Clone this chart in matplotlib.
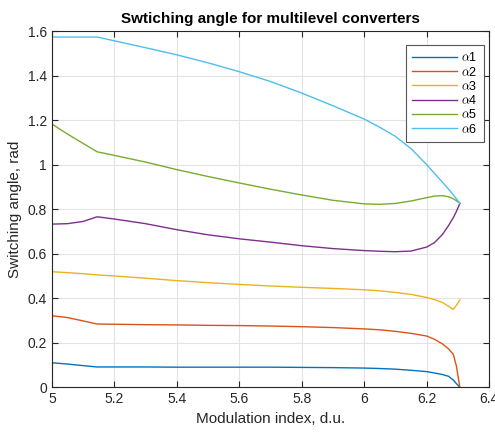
import matplotlib.pyplot as plt

plt.rcParams['font.family'] = ['Liberation Sans', 'DejaVu Sans']
plt.rcParams['mathtext.fontset'] = 'cm'

# modulation index grid and switching angles (rad)
m = [5.0, 5.05, 5.1, 5.145, 5.2, 5.3, 5.4, 5.5, 5.6, 5.7, 5.8, 5.9, 6.0, 6.05, 6.1,
     6.15, 6.2, 6.225, 6.25, 6.27, 6.285, 6.295, 6.306]
a1 = [0.110, 0.104, 0.097, 0.091, 0.091, 0.091, 0.090, 0.090, 0.090, 0.090, 0.089, 0.088, 0.086, 0.084, 0.081,
      0.076, 0.070, 0.064, 0.057, 0.049, 0.032, 0.016, 0.0]
a2 = [0.321, 0.313, 0.298, 0.284, 0.283, 0.281, 0.280, 0.278, 0.277, 0.275, 0.272, 0.268, 0.262, 0.258, 0.251,
      0.242, 0.230, 0.215, 0.195, 0.172, 0.148, 0.095, 0.0]
a3 = [0.519, 0.515, 0.510, 0.505, 0.500, 0.490, 0.479, 0.470, 0.462, 0.455, 0.449, 0.444, 0.438, 0.433, 0.426,
      0.417, 0.403, 0.394, 0.381, 0.364, 0.350, 0.368, 0.392]
a4 = [0.733, 0.735, 0.745, 0.766, 0.756, 0.735, 0.708, 0.685, 0.667, 0.652, 0.636, 0.623, 0.614, 0.611, 0.609,
      0.612, 0.630, 0.650, 0.686, 0.727, 0.762, 0.790, 0.826]
a5 = [1.183, 1.138, 1.096, 1.058, 1.042, 1.012, 0.978, 0.947, 0.918, 0.890, 0.864, 0.840, 0.824, 0.822, 0.826,
      0.837, 0.852, 0.859, 0.861, 0.856, 0.847, 0.838, 0.827]
a6 = [1.574, 1.574, 1.574, 1.574, 1.557, 1.526, 1.494, 1.458, 1.418, 1.374, 1.322, 1.265, 1.205, 1.168, 1.127,
      1.072, 1.000, 0.961, 0.922, 0.890, 0.865, 0.847, 0.826]
labels = [r'$\alpha$1', r'$\alpha$2', r'$\alpha$3', r'$\alpha$4', r'$\alpha$5', r'$\alpha$6']
colors = ['#0072BD', '#D95319', '#EDB120', '#7E2F8E', '#77AC30', '#4DBEEE']

fig = plt.figure(figsize=(4.95, 4.32), dpi=100)
ax = fig.add_axes([0.1047, 0.1037, 0.8836, 0.824])

for ys, lab, c in zip([a1, a2, a3, a4, a5, a6], labels, colors):
    ax.plot(m, ys, color=c, lw=1.0, label=lab)

ax.set_xlim(5, 6.4)
ax.set_ylim(0, 1.6)
ax.set_xticks([5, 5.2, 5.4, 5.6, 5.8, 6, 6.2, 6.4])
ax.set_xticklabels(['5', '5.2', '5.4', '5.6', '5.8', '6', '6.2', '6.4'])
ax.set_yticks([0, 0.2, 0.4, 0.6, 0.8, 1, 1.2, 1.4, 1.6])
ax.set_yticklabels(['0', '0.2', '0.4', '0.6', '0.8', '1', '1.2', '1.4', '1.6'])
ax.grid(True, color='#e3e3e3', lw=0.8)
ax.set_axisbelow(True)
ax.tick_params(direction='in', top=True, right=True, labelsize=10, colors='#262626', length=4)
for s in ax.spines.values():
    s.set_color('#262626')

ax.set_xlabel('Modulation index, d.u.', fontsize=11, color='#262626')
ax.set_ylabel('Switching angle, rad', fontsize=11, color='#262626')
ax.set_title('Swtiching angle for multilevel converters', fontsize=11, fontweight='bold')

leg = ax.legend(loc='upper right', bbox_to_anchor=(0.988, 0.961), borderaxespad=0, fontsize=9,
                fancybox=False, framealpha=1, edgecolor='#555555', handlelength=3.6,
                handletextpad=0.3, borderpad=0.5, labelspacing=0.1)
leg.get_frame().set_linewidth(0.8)

fig.savefig('out.png', dpi=100)
